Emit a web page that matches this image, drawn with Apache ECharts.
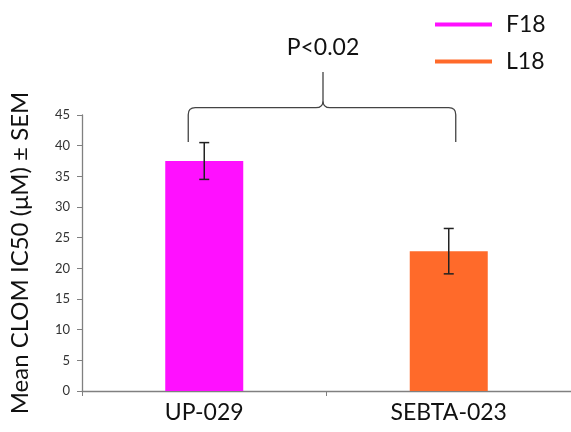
<!DOCTYPE html>
<html><head><meta charset="utf-8">
<script src="https://cdn.jsdelivr.net/npm/echarts@6/dist/echarts.min.js"></script>
<style>html,body{margin:0;padding:0;background:#fff}#c{width:571px;height:432px}</style>
</head><body><div id="c"></div>
<script>
const categories = ['UP-029', 'SEBTA-023'];
const seriesNames = ['F18', 'L18'];
const means = [37.5, 22.8];
const sems = [3.0, 3.7];
const yTicks = [0, 5, 10, 15, 20, 25, 30, 35, 40, 45];
const braceLevels = [40.6, 46.2, 52.0]; // ends, bar, peak (data units)
const pLabel = 'P<0.02';
const colors = ['#FF10FF', '#FF6A2A'];
const FONT = 'Lato, "Open Sans", sans-serif';

const chart = echarts.init(document.getElementById('c'));

const barSeries = seriesNames.map((n, i) => ({
  name: n, type: 'bar', stack: 'one', barWidth: 78,
  itemStyle: { color: colors[i] },
  data: categories.map((c, j) => j === i ? means[j] : '-')
}));

const errSeries = {
  type: 'custom', silent: true, z: 5,
  data: means.map((m, i) => [i, m - sems[i], m + sems[i]]),
  renderItem(params, api) {
    const lo = api.coord([api.value(0), api.value(1)]);
    const hi = api.coord([api.value(0), api.value(2)]);
    const x = lo[0], w = 5;
    const st = { stroke: '#222', lineWidth: 1.5 };
    return { type: 'group', children: [
      { type: 'line', shape: { x1: x, y1: lo[1], x2: x, y2: hi[1] }, style: st },
      { type: 'line', shape: { x1: x - w, y1: lo[1], x2: x + w, y2: lo[1] }, style: st },
      { type: 'line', shape: { x1: x - w, y1: hi[1], x2: x + w, y2: hi[1] }, style: st }
    ]};
  }
};

const braceSeries = {
  type: 'custom', silent: true, clip: false, z: 5,
  data: [[0, 1]],
  renderItem(params, api) {
    const a = api.coord([0, braceLevels[0]]);
    const b = api.coord([1, braceLevels[0]]);
    const L = a[0] - 16, R = b[0] + 7;
    const bot = a[1];
    const top = api.coord([0, braceLevels[1]])[1];
    const peak = api.coord([0, braceLevels[2]])[1];
    const mid = (L + R) / 2 + 1;
    const r = 7;
    const d = `M${L},${bot} L${L},${top + r} Q${L},${top} ${L + r},${top} L${mid - r},${top} Q${mid},${top} ${mid},${top - r} L${mid},${peak} M${mid},${top - r} Q${mid},${top} ${mid + r},${top} L${R - r},${top} Q${R},${top} ${R},${top + r} L${R},${bot}`;
    return { type: 'group', children: [
      { type: 'path', shape: { pathData: d }, style: { fill: null, stroke: '#444', lineWidth: 1.3 } },
      { type: 'text', x: mid, y: peak - 24, style: { text: pLabel, fill: '#111', font: '23px ' + FONT, align: 'center', verticalAlign: 'middle' } }
    ]};
  }
};

chart.setOption({
  animation: false,
  grid: { left: 81, right: -4, top: 115, bottom: 41 },
  legend: {
    orient: 'vertical', left: 430, top: 8, itemGap: 14,
    itemWidth: 57, itemHeight: 4, icon: 'rect',
    textStyle: { fontSize: 23, fontFamily: FONT, color: '#111', padding: [0, 0, 0, 9] },
    data: seriesNames
  },
  xAxis: {
    type: 'category', data: categories,
    axisLine: { lineStyle: { color: '#808080', width: 1.3 } },
    axisTick: { show: true, length: 5, lineStyle: { color: '#808080' } },
    axisLabel: { fontSize: 23, fontFamily: FONT, color: '#111', margin: 10 }
  },
  yAxis: {
    type: 'value', min: 0, max: 45, interval: 5,
    name: 'Mean CLOM IC50 (μM) ± SEM', nameLocation: 'middle', nameGap: 50,
    nameTextStyle: { fontSize: 24, fontFamily: FONT, color: '#111' },
    splitLine: { show: false },
    axisLine: { show: true, lineStyle: { color: '#808080', width: 1.3 } },
    axisTick: { show: true, length: 5, lineStyle: { color: '#808080' } },
    axisLabel: { fontSize: 13, fontFamily: FONT, color: '#333', margin: 12,
      formatter: v => yTicks.includes(v) ? String(v) : '' }
  },
  series: [...barSeries, errSeries, braceSeries]
});
</script></body></html>
